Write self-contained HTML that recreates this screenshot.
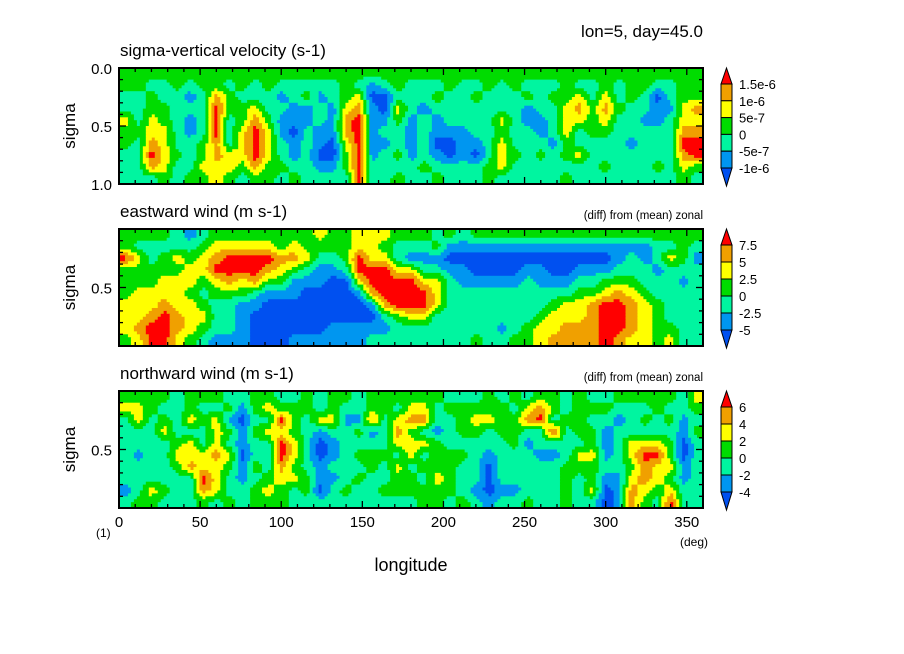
<!DOCTYPE html>
<html><head><meta charset="utf-8"><style>
html,body{margin:0;padding:0;background:#fff;}
svg{display:block;font-family:"Liberation Sans",sans-serif;}
</style></head><body>
<svg id="fig" width="904" height="654" viewBox="0 0 904 654" xmlns="http://www.w3.org/2000/svg">
<text x="703" y="37" font-size="17" text-anchor="end">lon=5, day=45.0</text>
<g id="plots"></g>
<text x="411" y="571" font-size="18" text-anchor="middle">longitude</text>
<text x="96" y="537" font-size="12">(1)</text>
<text x="680" y="546" font-size="12">(deg)</text>
</svg>
<script>
const colors = ["#0050f0","#0096f0","#00f5a0","#00dc00","#ffff00","#f0a000","#ff0000"];
const xTicks = [0,50,100,150,200,250,300,350];
const cb1Labels = ["1.5e-6","1e-6","5e-7","0","-5e-7","-1e-6"];
const cb2Labels = ["7.5","5","2.5","0","-2.5","-5"];
const cb3Labels = ["6","4","2","0","-2","-4"];
// columns (lon 0..360, 8 deg each), rows top->bottom, values = contour level index
const w1 = ["3322433222","3322232222","3233445652","3223344443","3322222322","3212112223","3322223343","3356665544","3233222443","3323344432","3224566653","3322344433","3212112232","3221101123","3231122222","3212211012","3221110012","3334554332","3245666666","3101111122","3200121222","3324322323","3222111122","3221222232","3232110123","3322210022","3222211122","3232221022","3322222233","3222434442","3322222322","3231122222","3222112322","3232221222","3334443323","3245422422","3223332222","3345432232","3223222222","3332221222","3322122222","3201122232","3221222222","3334456543","3335456632"];
const u2 = ["3363334443","3243344454","3223344566","3233445666","2243444554","1234434443","2344323432","3456432221","3466532221","3466431111","3466521000","3465310000","3354310000","3453110001","3342100001","4321100001","3321000011","3332000011","4466410011","4446651012","4346665212","3224666322","3214666422","3212466422","2312444222","3101222222","2101122222","3100122223","3100122222","3100122212","3100122223","3101222233","3101122344","3100123445","3100124455","3101234455","3101235555","3101346666","3112356665","3122345554","3112234444","3221223333","3242222234","3332122222","3212222222"];
const v3 = ["3422222212","3442212223","3322222243","3234222232","2222343222","3342445222","3232244653","3244454442","2313243223","2101101122","3323223233","3424222343","2364665433","2333443422","3322222332","2241001102","3342112122","3212222232","2213232322","3351233222","3322232232","3245424332","3453442332","3452423233","3221333433","2322233332","2333232223","2343222212","3342210001","2333222212","3233322212","2452122223","3562212222","3326212222","2232223333","3333243222","2323343342","2321112100","3212222111","3222443455","3232465543","3322464432","3232334346","2211001122","4323222222"];

const NS="http://www.w3.org/2000/svg";
const X0=119,X1=703;
function xs(lon){return X0+(lon/360)*(X1-X0);}
function mk(tag,attrs,parent){const e=document.createElementNS(NS,tag);for(const k in attrs)e.setAttribute(k,attrs[k]);parent.appendChild(e);return e;}
const root=document.getElementById('plots');
const panels=[
 {data:w1,top:68,bot:184,title:"sigma-vertical velocity (s-1)",labels:cb1Labels,full:true,name:"vertical-velocity"},
 {data:u2,top:229,bot:346,title:"eastward wind (m s-1)",labels:cb2Labels,full:false,name:"eastward-wind"},
 {data:v3,top:391,bot:508,title:"northward wind (m s-1)",labels:cb3Labels,full:false,name:"northward-wind"}
];
function sample(data,fx,fy){
 const nc=data.length,nr=data[0].length;
 let cx=fx*nc-0.5, cy=fy*nr-0.5;
 cx=Math.max(0,Math.min(nc-1,cx)); cy=Math.max(0,Math.min(nr-1,cy));
 const i0=Math.floor(cx),j0=Math.floor(cy),i1=Math.min(nc-1,i0+1),j1=Math.min(nr-1,j0+1);
 const tx=cx-i0,ty=cy-j0;
 const g=(i,j)=>+data[i][j];
 return (g(i0,j0)*(1-tx)+g(i1,j0)*tx)*(1-ty)+(g(i0,j1)*(1-tx)+g(i1,j1)*tx)*ty;
}
panels.forEach((p,pi)=>{
 const g=mk('g',{},root);
 
 
 const H=p.bot-p.top, W=X1-X0;
 const NX=196, NY=40;
 const dx=W/NX, dy=H/NY;
 for(let r=0;r<NY;r++){
  let start=0, cur=null;
  for(let c=0;c<=NX;c++){
   let lv=null;
   if(c<NX){lv=Math.round(sample(p.data,(c+0.5)/NX,(r+0.5)/NY));lv=Math.max(0,Math.min(6,lv));}
   if(lv!==cur){
    if(cur!==null){
     const rc=mk('rect',{x:(X0+start*dx).toFixed(2),y:(p.top+r*dy).toFixed(2),width:((c-start)*dx+0.5).toFixed(2),height:(dy+0.5).toFixed(2),fill:colors[cur]},g);
     
     
    }
    cur=lv; start=c;
   }
  }
 }
 const fr=mk('rect',{x:X0,y:p.top,width:W,height:H,fill:"none",stroke:"#000","stroke-width":2},g);
 
 
 for(let lon=0;lon<=360;lon+=10){
  const L=(lon%50===0)?7:4, x=xs(lon);
  mk('line',{x1:x,y1:p.bot,x2:x,y2:p.bot-L,stroke:"#000","stroke-width":1.3},g);
  mk('line',{x1:x,y1:p.top,x2:x,y2:p.top+L,stroke:"#000","stroke-width":1.3},g);
 }
 const mid=(p.top+p.bot)/2, step=H/10;
 for(let k=-5;k<=5;k++){
  const y=mid+k*step; if(y<p.top-0.5||y>p.bot+0.5)continue;
  const L=(k===0||(p.full&&Math.abs(k)===5))?7:4;
  mk('line',{x1:X0,y1:y,x2:X0+L,y2:y,stroke:"#000","stroke-width":1.3},g);
  mk('line',{x1:X1,y1:y,x2:X1-L,y2:y,stroke:"#000","stroke-width":1.3},g);
 }
 const ylab=p.full?[["0.0",p.top],["0.5",mid],["1.0",p.bot]]:[["0.5",mid]];
 ylab.forEach(([t,y])=>{const e=mk('text',{x:112,y:y+6,"font-size":15,"text-anchor":"end"},g);e.textContent=t;
  
  });
 const yt=mk('text',{x:75,y:mid,"font-size":17,"text-anchor":"middle",transform:`rotate(-90 75 ${mid})`},g);yt.textContent="sigma";
 
 
 const tt=mk('text',{x:120,y:p.top-12,"font-size":17},g);tt.textContent=p.title;
 
 
 if(!p.full){const st=mk('text',{x:703,y:p.top-10,"font-size":11.5,"text-anchor":"end"},g);st.textContent="(diff) from (mean) zonal";
  
  }
 const cb=mk('g',{},g);
 
 
 const cx0=721,cx1=732,ctop=p.top,cbot=p.bot+2;
 const b0=p.top+16,b1=p.bot-16;
 const bs=(b1-b0)/5;
 mk('polygon',{points:`${(cx0+cx1)/2},${ctop} ${cx1},${b0} ${cx0},${b0}`,fill:colors[6],stroke:"#000"},cb);
 for(let i=0;i<5;i++) mk('rect',{x:cx0,y:b0+i*bs,width:cx1-cx0,height:bs,fill:colors[5-i],stroke:"#000"},cb);
 mk('polygon',{points:`${cx0},${b1} ${cx1},${b1} ${(cx0+cx1)/2},${cbot}`,fill:colors[0],stroke:"#000"},cb);
 p.labels.forEach((t,i)=>{const e=mk('text',{x:739,y:b0+i*bs+5,"font-size":13},cb);e.textContent=t;
  
  });
});
xTicks.forEach(t=>{const e=mk('text',{x:xs(t),y:527,"font-size":15,"text-anchor":"middle"},root);e.textContent=t;
 
 });
</script>
</body></html>
